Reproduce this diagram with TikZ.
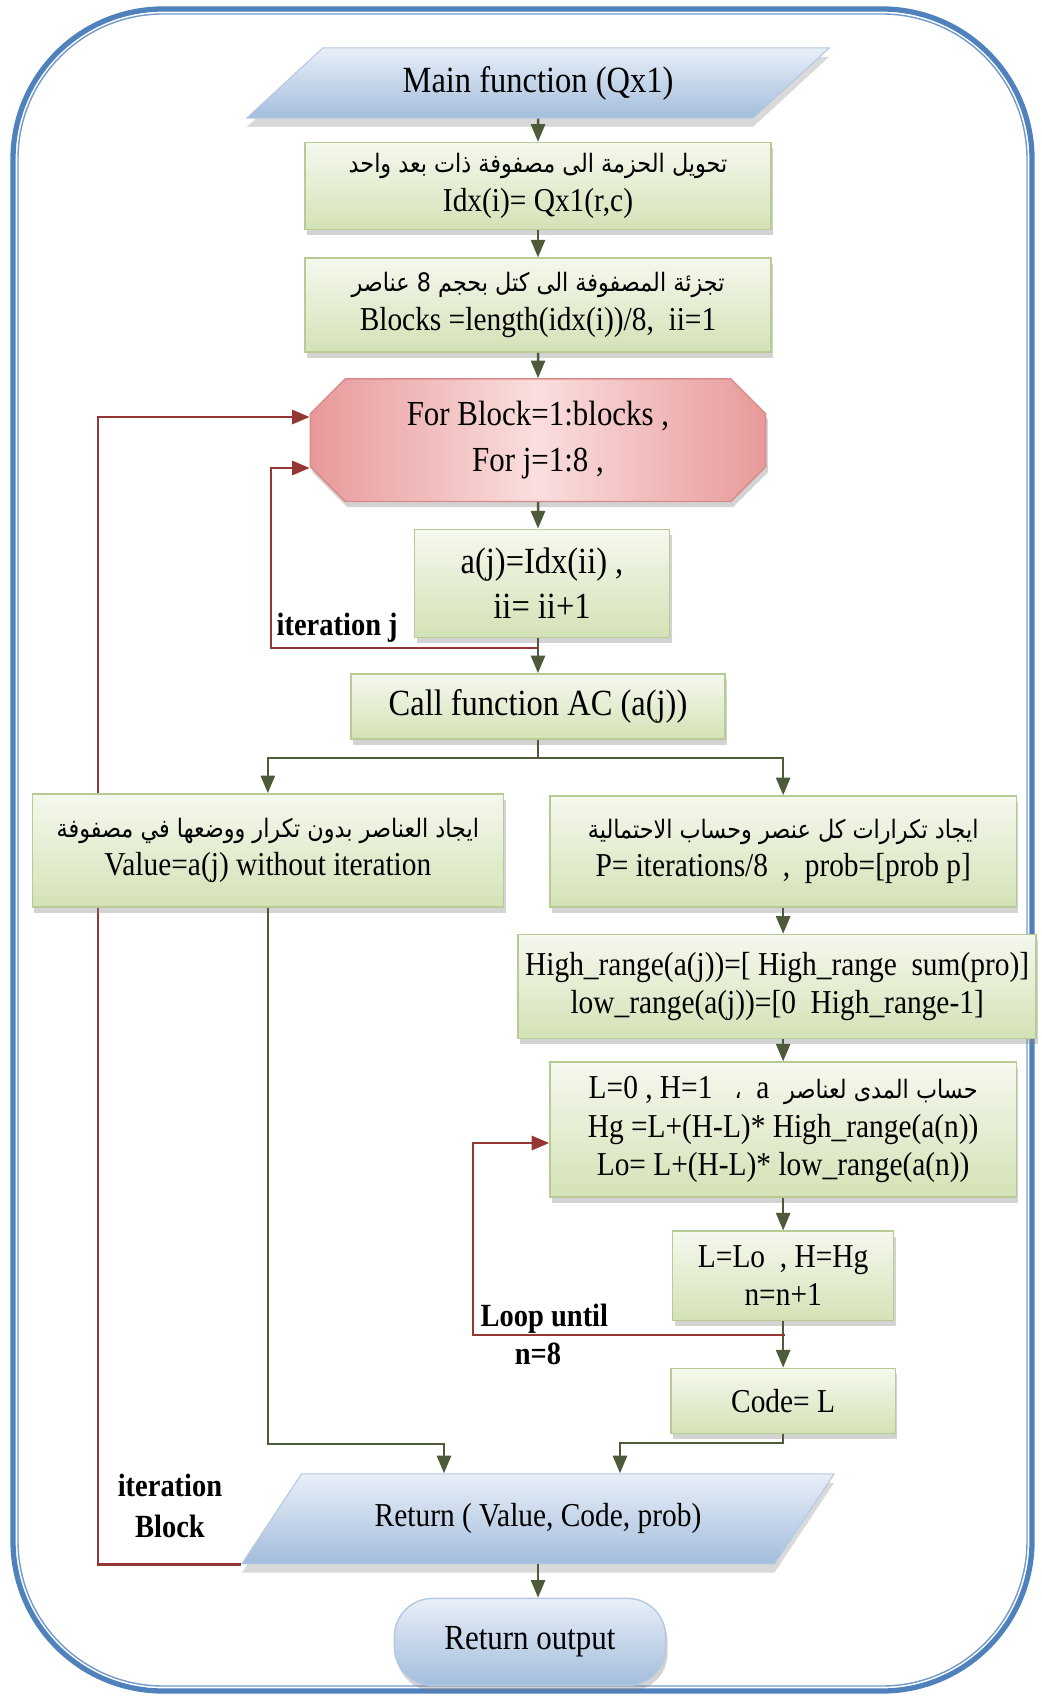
\documentclass[tikz,border=0pt]{standalone}
\usepackage{fontspec}
\setmainfont{Liberation Serif}[FakeStretch=0.88]
\newfontfamily\arabicfont[Script=Arabic,Scale=0.76,FakeStretch=0.88]{DejaVu Sans}
\TeXXeTstate=1
\usetikzlibrary{positioning, arrows.meta, shapes.geometric, shapes.misc, shadows, backgrounds}
\definecolor{frameblue}{HTML}{4F81BD}
\definecolor{framelight}{HTML}{DCE6F2}
\definecolor{greentop}{HTML}{F5F8EE}
\definecolor{greenbot}{HTML}{D4E2B6}
\definecolor{greenedge}{HTML}{B8CB94}
\definecolor{octmid}{HTML}{FADEDE}
\definecolor{octside}{HTML}{E8999A}
\definecolor{octedge}{HTML}{D98A8B}
\definecolor{iotop}{HTML}{E8EFF8}
\definecolor{iobot}{HTML}{A3BDDC}
\definecolor{ioedge}{HTML}{B4C8E1}
\definecolor{linkgreen}{HTML}{4E5B3A}
\definecolor{loopred}{HTML}{943634}
\newcommand{\arline}[1]{{\arabicfont\beginR #1\endR}}
\tikzset{
>={Triangle[length=5pt,width=4pt]}, % small filled arrow heads
every node/.style={font=\fontsize{9.5}{11}\selectfont}, % text size in the boxes
boxshadow/.style={drop shadow={shadow xshift=0.6pt, shadow yshift=-1.6pt, opacity=0.35}}, % soft shadow under each box
}

\begin{document}
\begin{tikzpicture}[x=0.01cm, y=-0.01cm, on grid,
flow/.style={color=linkgreen, line width=0.7pt},
loopline/.style={color=loopred, line width=0.8pt},
greenbox/.style={rectangle, draw=greenedge, line width=0.4pt, top color=greentop, bottom color=greenbot, align=center, inner sep=2pt, boxshadow},
io/.style={trapezium, trapezium stretches body, draw=ioedge, line width=0.3pt, top color=iotop, bottom color=iobot, align=center, drop shadow={shadow xshift=0pt, shadow yshift=-2.5pt, opacity=0.3}},
forloop/.style={chamfered rectangle, chamfered rectangle xsep=0.24cm, draw=octedge, line width=0.4pt, left color=octside, right color=octside, middle color=octmid, align=center, boxshadow},
endbox/.style={rectangle, rounded corners=0.38cm, draw=ioedge, line width=0.4pt, top color=iotop, bottom color=iobot, align=center, boxshadow},
lbl/.style={font=\fontsize{9.2}{11.5}\selectfont\bfseries, align=center, inner sep=0pt}]
\useasboundingbox (0,0) rectangle (1041,1698);
\draw[draw=frameblue, line width=1.5pt, rounded corners=1.5cm] (13,9) rectangle (1032,1691);
\draw[draw=frameblue!80, line width=0.4pt, rounded corners=1.45cm] (18,14) rectangle (1027,1686);

\node[io, trapezium left angle=37, trapezium right angle=143, minimum width=5.82cm, minimum height=0.70cm, font=\fontsize{10.5}{12}\selectfont] (main) at (538,83) {Main function (Qx1)};
\node[greenbox, minimum width=4.66cm, minimum height=0.87cm] (box1) [below=1.03cm of main] {\arline{تحويل الحزمة الى مصفوفة ذات بعد واحد}\\ Idx(i)= Qx1(r,c)};
\node[greenbox, minimum width=4.66cm, minimum height=0.94cm] (box2) [below=1.19cm of box1] {\arline{تجزئة المصفوفة الى كتل بحجم 8 عناصر}\\ Blocks =length(idx(i))/8,~~ii=1};
\node[forloop, minimum width=4.55cm, minimum height=1.21cm, font=\fontsize{10}{13}\selectfont] (oct) [below=1.35cm of box2] {For Block=1:blocks ,\\ For j=1:8 ,};
\node[greenbox, minimum width=2.55cm, minimum height=1.08cm, font=\fontsize{10.5}{13}\selectfont] (aj) [below=1.43cm of oct, xshift=0.04cm] {a(j)=Idx(ii) ,\\ ii= ii+1};
\node[greenbox, minimum width=3.74cm, minimum height=0.65cm, font=\fontsize{10.5}{12}\selectfont] (call) [below=1.23cm of aj, xshift=-0.04cm] {Call function AC (a(j))};
\node[greenbox, minimum width=4.71cm, minimum height=1.13cm] (left) [below left=1.44cm and 2.70cm of call] {\arline{ايجاد العناصر بدون تكرار ووضعها في مصفوفة}\\ Value=a(j) without iteration};
\node[greenbox, minimum width=4.66cm, minimum height=1.11cm] (right) [below right=1.45cm and 2.45cm of call] {\arline{ايجاد تكرارات كل عنصر وحساب الاحتمالية}\\ P= iterations/8~~,~~prob=[prob p]};
\node[greenbox, minimum width=5.00cm, minimum height=1.04cm] (high) [below=1.35cm of right, xshift=-0.06cm] {High\_range(a(j))=[ High\_range~~sum(pro)]\\ low\_range(a(j))=[0~~High\_range-1]};
\node[greenbox, minimum width=4.66cm, minimum height=1.35cm] (lbox) [below=2.78cm of right] {L=0 , H=1~~~\arline{،}~~a~~\arline{حساب المدى لعناصر}\\ Hg =L+(H-L)* High\_range(a(n))\\ Lo= L+(H-L)* low\_range(a(n))};
\node[greenbox, minimum width=2.21cm, minimum height=0.89cm] (llo) [below=1.46cm of lbox] {L=Lo~~, H=Hg\\ n=n+1};
\node[greenbox, minimum width=2.24cm, minimum height=0.65cm] (code) [below=1.25cm of llo] {Code= L};
\node[io, trapezium left angle=42, trapezium right angle=138, minimum width=5.92cm, minimum height=0.90cm] (ret) [below=8.12cm of call] {Return ( Value, Code, prob)};
\node[endbox, minimum width=2.71cm, minimum height=0.87cm, font=\fontsize{10}{12}\selectfont] (out) [below=1.23cm of ret, xshift=-0.08cm] {Return output};

\coordinate (split) at (538,758);
\coordinate (jt) at (538,648);
\coordinate (jl) at (271,468);
\coordinate (kb) at (98,417);
\coordinate (lt) at (785,1335);
\coordinate (ll) at (473,1143);
\coordinate (rl) at (444,1444);
\coordinate (rr) at (620,1443);

\path[flow,->] (main) edge (box1)
(box1) edge (box2)
(box2) edge (oct);
\draw[flow,->] (oct) -- (oct |- aj.north);
\draw[flow,->] (oct |- aj.south) -- (call);
\draw[flow] (call) -- (split);
\draw[flow,->] (split) -| (left);
\draw[flow,->] (split) -| (right);
\draw[flow,->] (right) -- (right |- high.north);
\draw[flow,->] (right |- high.south) -- (lbox);
\path[flow,->] (lbox) edge (llo)
(llo) edge (code);
\draw[flow,->] (left) |- (rl) -- (rl |- ret.north);
\draw[flow,->] (code) |- (rr) -- (rr |- ret.north);
\draw[flow,->] (ret.south) -- (ret.south |- out.north);

\draw[loopline,->] (jt) -| (jl) -- (jl -| oct.west);
\draw[loopline,->] (lt) -| (ll) -- (ll -| lbox.west);
\begin{scope}[on background layer]
\draw[loopline,->] (ret.bottom left corner) -| (kb) -- (kb -| oct.west);
\end{scope}

\node[lbl, anchor=west] (itj) at (276,628) {iteration j};
\node[lbl, anchor=west] (lpu) at (480,1319) {Loop until};
\node[lbl] (lpn) at (538,1354) {n=8};
\node[lbl] (itb) at (170,1506) {iteration\\ Block};
\end{tikzpicture}
\end{document}
